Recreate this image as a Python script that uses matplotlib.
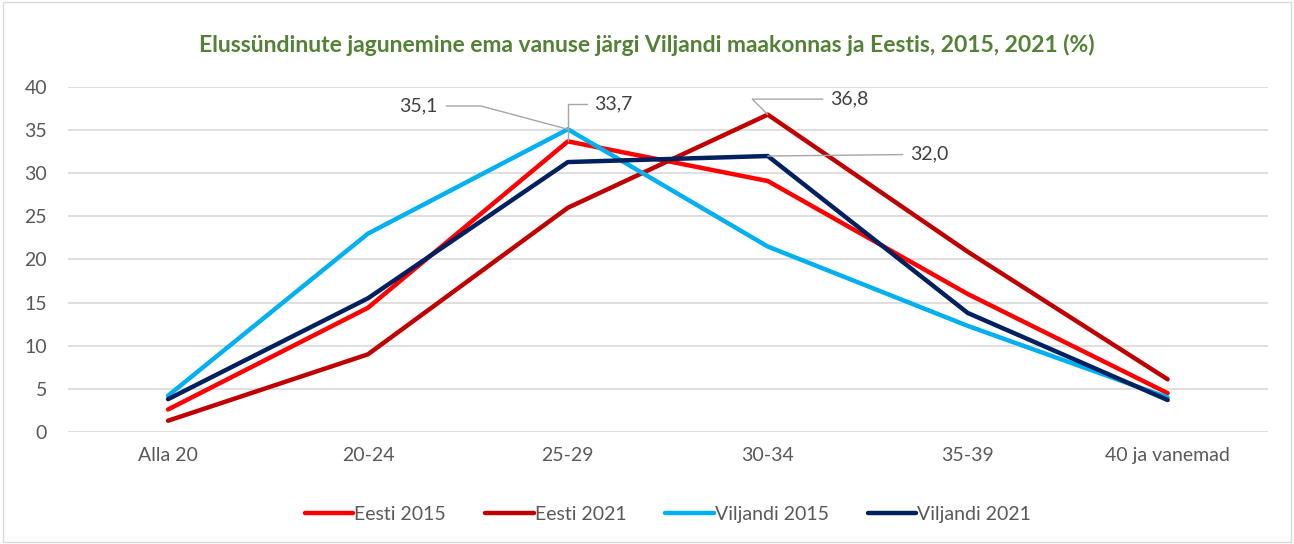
import matplotlib.pyplot as plt
import numpy as np

categories = ["Alla 20", "20-24", "25-29", "30-34", "35-39", "40 ja vanemad"]
eesti_2015 = [2.6, 14.4, 33.7, 29.1, 16.0, 4.5]
eesti_2021 = [1.3, 9.0, 26.0, 36.8, 20.9, 6.1]
viljandi_2015 = [4.2, 23.0, 35.1, 21.5, 12.3, 4.0]
viljandi_2021 = [3.8, 15.5, 31.3, 32.0, 13.8, 3.7]

plt.rcParams['font.family'] = ['Lato', 'DejaVu Sans']
txt = '#595959'
fs = 14

fig = plt.figure(figsize=(12.94, 5.44), dpi=100)
ax = fig.add_axes([0.0526, 0.206, 0.927, 0.634])

x = np.arange(len(categories))
series = [
    ("Eesti 2015", eesti_2015, '#ff0000'),
    ("Eesti 2021", eesti_2021, '#c00000'),
    ("Viljandi 2015", viljandi_2015, '#00b0f0'),
    ("Viljandi 2021", viljandi_2021, '#002060'),
]
for name, vals, col in series:
    ax.plot(x, vals, color=col, lw=3.2, label=name, solid_capstyle='round', zorder=3)

ax.set_xlim(-0.5, 5.5)
ax.set_ylim(0, 40)
ax.set_yticks(range(0, 41, 5))
ax.set_xticks(x)
ax.set_xticklabels(categories)
ax.tick_params(axis='both', length=0, labelsize=fs, labelcolor=txt)
ax.tick_params(axis='x', pad=11)
ax.tick_params(axis='y', pad=15)
ax.grid(axis='y', color='#d9d9d9', lw=1.2)
ax.set_axisbelow(True)
for s in ax.spines.values():
    s.set_visible(False)

# data labels with leader lines
lc = '#a6a6a6'
lab = '#404040'
ax.annotate(f"{viljandi_2015[2]:.1f}".replace('.', ','), xy=(2, viljandi_2015[2]),
            xytext=(1.35, 37.8), ha='right', va='center', fontsize=fs, color=lab,
            arrowprops=dict(arrowstyle='-', color=lc, lw=1, shrinkA=4, shrinkB=0,
                            connectionstyle='angle,angleA=0,angleB=165,rad=0'))
ax.annotate(f"{eesti_2015[2]:.1f}".replace('.', ','), xy=(2, eesti_2015[2]),
            xytext=(2.13, 38.0), ha='left', va='center', fontsize=fs, color=lab,
            arrowprops=dict(arrowstyle='-', color=lc, lw=1, shrinkA=3, shrinkB=0,
                            connectionstyle='angle,angleA=0,angleB=90,rad=0'))
ax.annotate(f"{eesti_2021[3]:.1f}".replace('.', ','), xy=(3, eesti_2021[3]),
            xytext=(3.31, 38.6), ha='left', va='center', fontsize=fs, color=lab,
            arrowprops=dict(arrowstyle='-', color=lc, lw=1, shrinkA=3, shrinkB=0,
                            connectionstyle='angle,angleA=0,angleB=135,rad=0'))
ax.annotate(f"{viljandi_2021[3]:.1f}".replace('.', ','), xy=(3, viljandi_2021[3]),
            xytext=(3.71, 32.2), ha='left', va='center', fontsize=fs, color=lab,
            arrowprops=dict(arrowstyle='-', color=lc, lw=1, shrinkA=3, shrinkB=0))

fig.text(0.5, 0.918, "Elussündinute jagunemine ema vanuse järgi Viljandi maakonnas ja Eestis, 2015, 2021 (%)",
         ha='center', va='center', fontsize=16.5, fontweight='bold', color='#538135')

leg = ax.legend(loc='center', bbox_to_anchor=(0.5, -0.24), ncol=4, frameon=False,
                fontsize=fs, handlelength=2.5, handletextpad=0.05, columnspacing=2.0)
for t in leg.get_texts():
    t.set_color(txt)

fig.patches.append(plt.Rectangle((0.002, 0.003), 0.996, 0.994, transform=fig.transFigure,
                                 fill=False, edgecolor='#d9d9d9', lw=1))

fig.savefig('out.png', dpi=100)
